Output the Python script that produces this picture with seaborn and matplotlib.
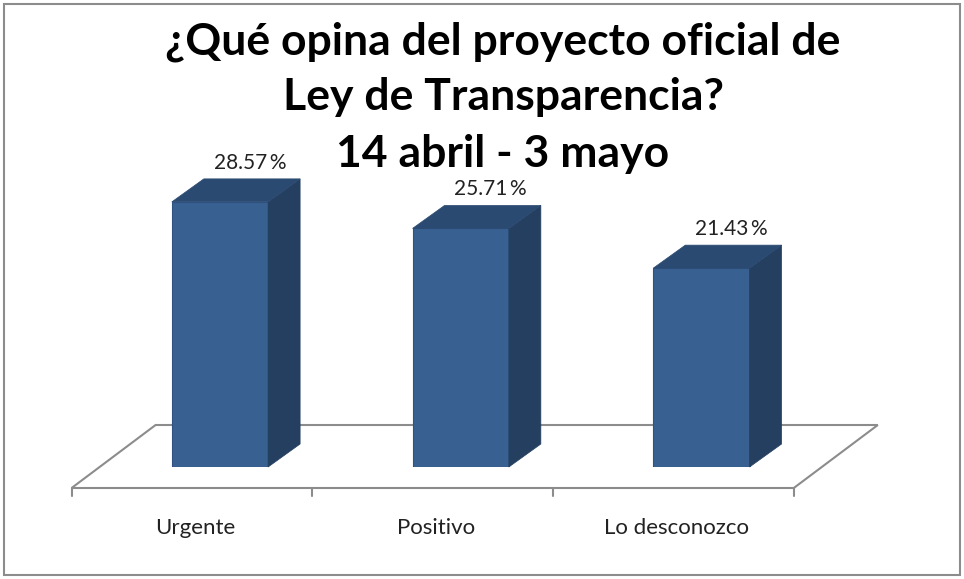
import matplotlib
matplotlib.use("Agg")
import matplotlib.pyplot as plt
import seaborn as sns
from matplotlib.patches import Polygon, Rectangle
from matplotlib.transforms import IdentityTransform, offset_copy

# Chart data
categories = ["Urgente", "Positivo", "Lo desconozco"]
values = [28.57, 25.71, 21.43]
title_lines = ["¿Qué opina del proyecto oficial de", "Ley de Transparencia?", "14 abril - 3 mayo"]

sns.set_style("white")
plt.rcParams["font.family"] = ["Lato", "DejaVu Sans"]

front_col = "#386192"
side_col = "#243F60"
top_col = "#2B4A72"
floor_col = "#8C8C8C"

W, H = 964, 579
fig = plt.figure(figsize=(W / 100, H / 100), dpi=100)

# axes: y=0 is the bar baseline, 9.28 px per percent
base_px = 467
ax = fig.add_axes([99.6 / W, (H - base_px) / H, 722.2 / W, 40 * 9.28 / H])
sns.barplot(x=categories, y=values, width=0.4, color=front_col, saturation=1,
            edgecolor="#2F5282", linewidth=0.8, ax=ax)
ax.set_xlim(-0.5, 2.5)
ax.set_ylim(0, 40)
ax.axis("off")

ident = IdentityTransform()
dx, dy = 32, 23          # bar depth in pixels
fdx, fdy = 84, 63        # floor depth
fx0, fy0 = -28, -21      # floor front edge relative to bar front plane

# floor parallelogram
(xl, yb), (xr, _) = ax.transData.transform([(-0.5, 0), (2.5, 0)])
floor = [(xl + fx0, yb + fy0), (xr + fx0, yb + fy0),
         (xr + fx0 + fdx, yb + fy0 + fdy), (xl + fx0 + fdx, yb + fy0 + fdy)]
ax.add_patch(Polygon(floor, closed=True, facecolor="white", edgecolor=floor_col,
                     lw=1.5, transform=ident, clip_on=False, zorder=0.5))

# ticks on the front edge of the floor
for t in [-0.5, 0.5, 1.5, 2.5]:
    tx, ty = ax.transData.transform((t, 0))
    ax.plot([tx + fx0, tx + fx0], [ty + fy0, ty + fy0 - 8], color=floor_col, lw=1.5,
            transform=ident, clip_on=False, zorder=0.6)

# sides and tops of the bars
for p in list(ax.patches):
    if not isinstance(p, Rectangle) or p.get_height() <= 0:
        continue
    x0, w, h = p.get_x(), p.get_width(), p.get_height()
    bl, br, tr, tl = ax.transData.transform([(x0, 0), (x0 + w, 0), (x0 + w, h), (x0, h)])
    side = [tuple(br), (br[0] + dx, br[1] + dy), (tr[0] + dx, tr[1] + dy), tuple(tr)]
    top = [tuple(tl), tuple(tr), (tr[0] + dx, tr[1] + dy), (tl[0] + dx, tl[1] + dy)]
    ax.add_patch(Polygon(side, closed=True, facecolor=side_col, edgecolor=side_col,
                         lw=0.5, transform=ident, clip_on=False, zorder=2))
    ax.add_patch(Polygon(top, closed=True, facecolor=top_col, edgecolor=top_col,
                         lw=0.5, transform=ident, clip_on=False, zorder=2))

# value labels above bars
lab_tr = offset_copy(ax.transData, fig=fig, x=dx - 2, y=dy + 16, units="dots")
for i, v in enumerate(values):
    ax.text(i, v, f"{v:.2f}\u2009%", transform=lab_tr, ha="center", va="center",
            fontsize=15, color="#222222")

# category labels below the floor
cat_tr = offset_copy(ax.transData, fig=fig, x=fx0 + 3, y=fy0 - 40, units="dots")
for i, c in enumerate(categories):
    ax.text(i, 0, c, transform=cat_tr, ha="center", va="center",
            fontsize=16, color="#222222")

# title, one line at a time (baselines in pixels from the top)
for line, base in zip(title_lines, [55, 110, 167]):
    fig.text(503 / W, 1 - base / H, line, ha="center", va="baseline",
             fontsize=32, fontweight="bold", color="black")

# outer border
fig.add_artist(Rectangle((4 / W, 4 / H), 956 / W, 571 / H, transform=fig.transFigure,
                         fill=False, edgecolor="#8C8C8C", lw=1.5))

fig.savefig("out.png", dpi=100)
